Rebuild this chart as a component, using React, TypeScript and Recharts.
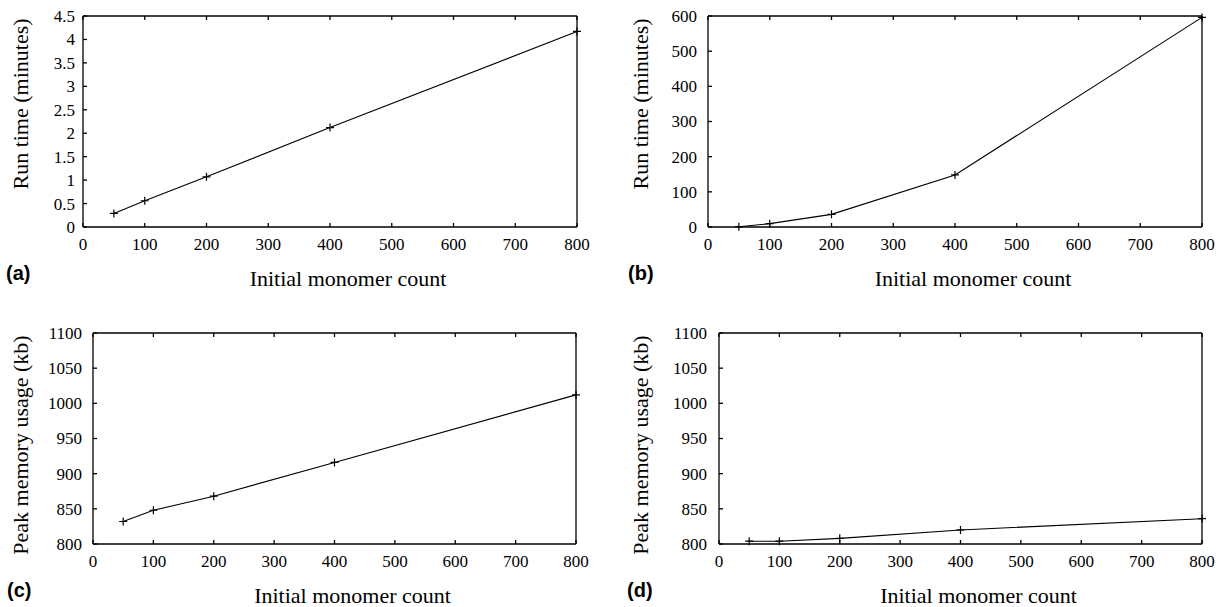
import { LineChart, Line, XAxis, YAxis } from "recharts";

const monomerCounts = [50, 100, 200, 400, 800];
const xTicks = [0, 100, 200, 300, 400, 500, 600, 700, 800];

// run time (minutes) and peak memory (kb) for the four panels
const runTimeA = [0.29, 0.56, 1.07, 2.12, 4.17];
const runTimeB = [0.5, 9.5, 36, 148, 596];
const memoryC = [832, 848, 868, 916, 1012];
const memoryD = [804, 804, 808, 820, 836];

const runTicksA = [0, 0.5, 1, 1.5, 2, 2.5, 3, 3.5, 4, 4.5];
const runTicksB = [0, 100, 200, 300, 400, 500, 600];
const memTicks = [800, 850, 900, 950, 1000, 1050, 1100];

const xTitle = "Initial monomer count";
const runTitle = "Run time (minutes)";
const memTitle = "Peak memory usage (kb)";

const serif = "'Liberation Serif', 'Times New Roman', serif";
const sans = "'Liberation Sans', Arial, sans-serif";
const TICK = -4;
const Y_W = 50;
const X_H = 40;

type Box = { l: number; r: number; t: number; b: number };

type PanelProps = {
  letter: string;
  values: number[];
  yTicks: number[];
  yTitle: string;
  left: number;
  top: number;
  width: number;
  height: number;
  plot: Box;
  labelGap: number;
  yTitleX: number;
  yTitleY: number;
  letterX: number;
  letterY: number;
};

const Plus = (p: any) => (
  <path
    key={p.index}
    d={`M${p.cx - 4},${p.cy}h8M${p.cx},${p.cy - 4}v8`}
    stroke="#000"
    strokeWidth={1.2}
    fill="none"
  />
);

const BottomTick = (p: any) => (
  <text x={p.x} y={p.y} dy="0.71em" textAnchor="middle" fontSize={17} fontFamily={serif} fill="#000">
    {p.payload.value}
  </text>
);

const LeftTick = (p: any) => (
  <text x={p.x} y={p.y} dy="0.35em" textAnchor="end" fontSize={17} fontFamily={serif} fill="#000">
    {p.payload.value}
  </text>
);

const NoTick = () => <g />;

const Panel = (props: PanelProps) => {
  const { plot, width, height } = props;
  const data = monomerCounts.map((n, i) => ({ n, v: props.values[i] }));
  const yDomain = [props.yTicks[0], props.yTicks[props.yTicks.length - 1]];
  const titleX = (plot.l + plot.r) / 2 + 18;
  return (
    <div style={{ position: "absolute", left: props.left, top: props.top }}>
      <LineChart
        width={width}
        height={height}
        data={data}
        margin={{
          top: plot.t - 1,
          left: plot.l - Y_W,
          right: width - plot.r - 1,
          bottom: height - plot.b - X_H,
        }}
      >
        <XAxis
          dataKey="n"
          type="number"
          domain={[0, 800]}
          ticks={xTicks}
          interval={0}
          height={X_H}
          tickSize={TICK}
          tickMargin={19 + TICK}
          stroke="#000"
          strokeWidth={1.3}
          tick={BottomTick}
          label={{
            content: () => (
              <g>
                <text
                  x={titleX}
                  y={plot.b + 59}
                  textAnchor="middle"
                  fontSize={22}
                  fontFamily={serif}
                  fill="#000"
                >
                  {xTitle}
                </text>
                <text
                  x={props.letterX}
                  y={props.letterY}
                  fontSize={20}
                  fontWeight="bold"
                  fontFamily={sans}
                  fill="#000"
                >
                  {props.letter}
                </text>
              </g>
            ),
          }}
        />
        <XAxis
          xAxisId="top"
          dataKey="n"
          type="number"
          orientation="top"
          domain={[0, 800]}
          ticks={xTicks}
          interval={0}
          height={1}
          tickSize={TICK}
          stroke="#000"
          strokeWidth={1.3}
          tick={NoTick}
        />
        <YAxis
          type="number"
          domain={yDomain}
          ticks={props.yTicks}
          interval={0}
          width={Y_W}
          tickSize={TICK}
          tickMargin={props.labelGap - TICK}
          stroke="#000"
          strokeWidth={1.3}
          tick={LeftTick}
          label={{
            content: () => (
              <text
                x={props.yTitleX}
                y={props.yTitleY}
                transform={`rotate(-90, ${props.yTitleX}, ${props.yTitleY})`}
                textAnchor="middle"
                fontSize={22}
                fontFamily={serif}
                fill="#000"
              >
                {props.yTitle}
              </text>
            ),
          }}
        />
        <YAxis
          yAxisId="right"
          orientation="right"
          type="number"
          domain={yDomain}
          ticks={props.yTicks}
          interval={0}
          width={1}
          tickSize={TICK}
          stroke="#000"
          strokeWidth={1.3}
          tick={NoTick}
        />
        <Line
          dataKey="v"
          type="linear"
          stroke="#000"
          strokeWidth={1.1}
          dot={Plus}
          activeDot={false}
          isAnimationActive={false}
        />
      </LineChart>
    </div>
  );
};

export default function App() {
  return (
    <div
      style={{
        position: "absolute",
        left: 0,
        top: 0,
        width: 1231,
        height: 607,
        background: "#fff",
      }}
    >
      <Panel
        letter="(a)"
        values={runTimeA}
        yTicks={runTicksA}
        yTitle={runTitle}
        left={0}
        top={0}
        width={615}
        height={300}
        plot={{ l: 83, r: 577, t: 16, b: 227 }}
        labelGap={8}
        yTitleX={28}
        yTitleY={104}
        letterX={6}
        letterY={280}
      />
      <Panel
        letter="(b)"
        values={runTimeB}
        yTicks={runTicksB}
        yTitle={runTitle}
        left={615}
        top={0}
        width={616}
        height={300}
        plot={{ l: 93, r: 587, t: 16, b: 227 }}
        labelGap={11}
        yTitleX={33}
        yTitleY={104}
        letterX={13}
        letterY={280}
      />
      <Panel
        letter="(c)"
        values={memoryC}
        yTicks={memTicks}
        yTitle={memTitle}
        left={0}
        top={300}
        width={615}
        height={307}
        plot={{ l: 93, r: 576, t: 33, b: 244 }}
        labelGap={11}
        yTitleX={28}
        yTitleY={145}
        letterX={7}
        letterY={297}
      />
      <Panel
        letter="(d)"
        values={memoryD}
        yTicks={memTicks}
        yTitle={memTitle}
        left={615}
        top={300}
        width={616}
        height={307}
        plot={{ l: 104, r: 587, t: 33, b: 244 }}
        labelGap={12}
        yTitleX={33}
        yTitleY={145}
        letterX={12}
        letterY={297}
      />
    </div>
  );
}
